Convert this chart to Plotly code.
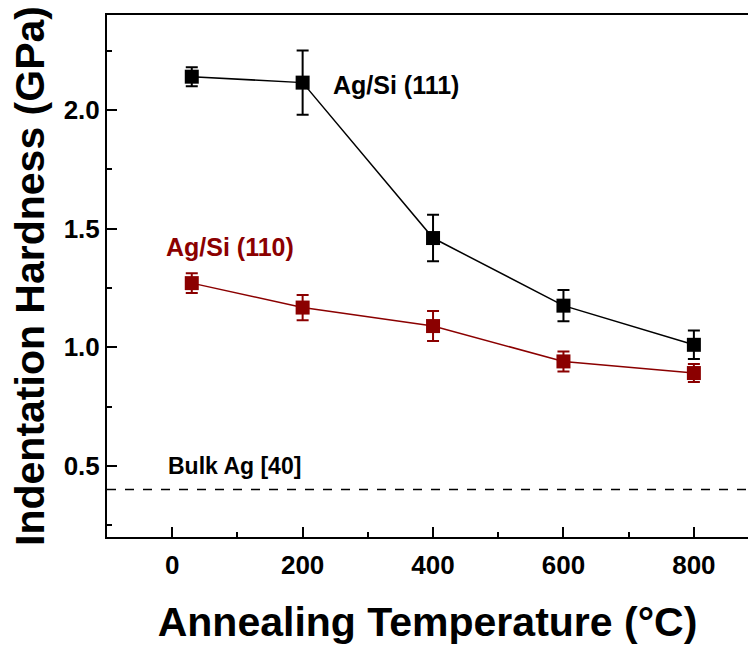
import plotly.graph_objects as go

temps = [30, 200, 400, 600, 800]
h111 = [2.14, 2.115, 1.46, 1.175, 1.01]
e111 = [0.04, 0.135, 0.098, 0.066, 0.06]
h110 = [1.27, 1.167, 1.089, 0.94, 0.891]
e110 = [0.042, 0.053, 0.063, 0.042, 0.038]
bulk_ag = 0.4
black = "#000000"
red = "#8B0000"
FONT = "Liberation Sans, Arial, sans-serif"

fig = go.Figure()
fig.add_trace(go.Scatter(
    x=temps, y=h111, mode="lines+markers",
    line=dict(color=black, width=1.5),
    marker=dict(symbol="square", size=14, color=black),
    error_y=dict(type="data", array=e111, color=black, thickness=2, width=6),
    showlegend=False))
fig.add_trace(go.Scatter(
    x=temps, y=h110, mode="lines+markers",
    line=dict(color=red, width=1.5),
    marker=dict(symbol="square", size=14, color=red),
    error_y=dict(type="data", array=e110, color=red, thickness=2, width=6),
    showlegend=False))
fig.add_trace(go.Scatter(
    x=[-100, 900], y=[bulk_ag, bulk_ag], mode="lines",
    line=dict(color=black, width=1.5, dash="dash"), showlegend=False))

fig.add_annotation(x=243, y=2.105, text="Ag/Si (111)", showarrow=False,
                   xanchor="left", yanchor="middle",
                   font=dict(family=FONT, size=25, color=black, weight="bold"))
fig.add_annotation(x=-12, y=1.424, text="Ag/Si (110)", showarrow=False,
                   xanchor="left", yanchor="middle",
                   font=dict(family=FONT, size=25, color=red, weight="bold"))
fig.add_annotation(x=-9, y=0.5, text="Bulk Ag [40]", showarrow=False,
                   xanchor="left", yanchor="middle",
                   font=dict(family=FONT, size=23, color=black, weight="bold"))

fig.update_layout(
    width=748, height=648,
    margin=dict(l=107, r=0, t=15, b=111),
    plot_bgcolor="white", paper_bgcolor="white",
    font=dict(family=FONT, color=black),
)
fig.update_xaxes(
    range=[-100, 883], tickvals=[0, 200, 400, 600, 800],
    ticks="inside", ticklen=10, tickwidth=2, tickcolor=black,
    minor=dict(tickvals=[100, 300, 500, 700], ticks="inside", ticklen=5, tickwidth=2, tickcolor=black),
    showline=True, linewidth=2, linecolor=black, mirror=True,
    showgrid=False, zeroline=False, ticklabelstandoff=4,
    tickfont=dict(family=FONT, size=26, weight="bold"),
    title=dict(text="Annealing Temperature (°C)", standoff=28,
               font=dict(family=FONT, size=41, weight="bold")))
fig.update_yaxes(
    range=[0.2, 2.4], tickvals=[0.5, 1.0, 1.5, 2.0], ticktext=["0.5", "1.0", "1.5", "2.0"],
    ticks="inside", ticklen=10, tickwidth=2, tickcolor=black,
    minor=dict(tickvals=[0.25, 0.75, 1.25, 1.75, 2.25], ticks="inside", ticklen=5, tickwidth=2, tickcolor=black),
    showline=True, linewidth=2, linecolor=black,
    showgrid=False, zeroline=False,
    tickfont=dict(family=FONT, size=26, weight="bold"),
    title=dict(text="Indentation Hardness (GPa)", standoff=6,
               font=dict(family=FONT, size=41, weight="bold")))

fig.write_html("out.html")
